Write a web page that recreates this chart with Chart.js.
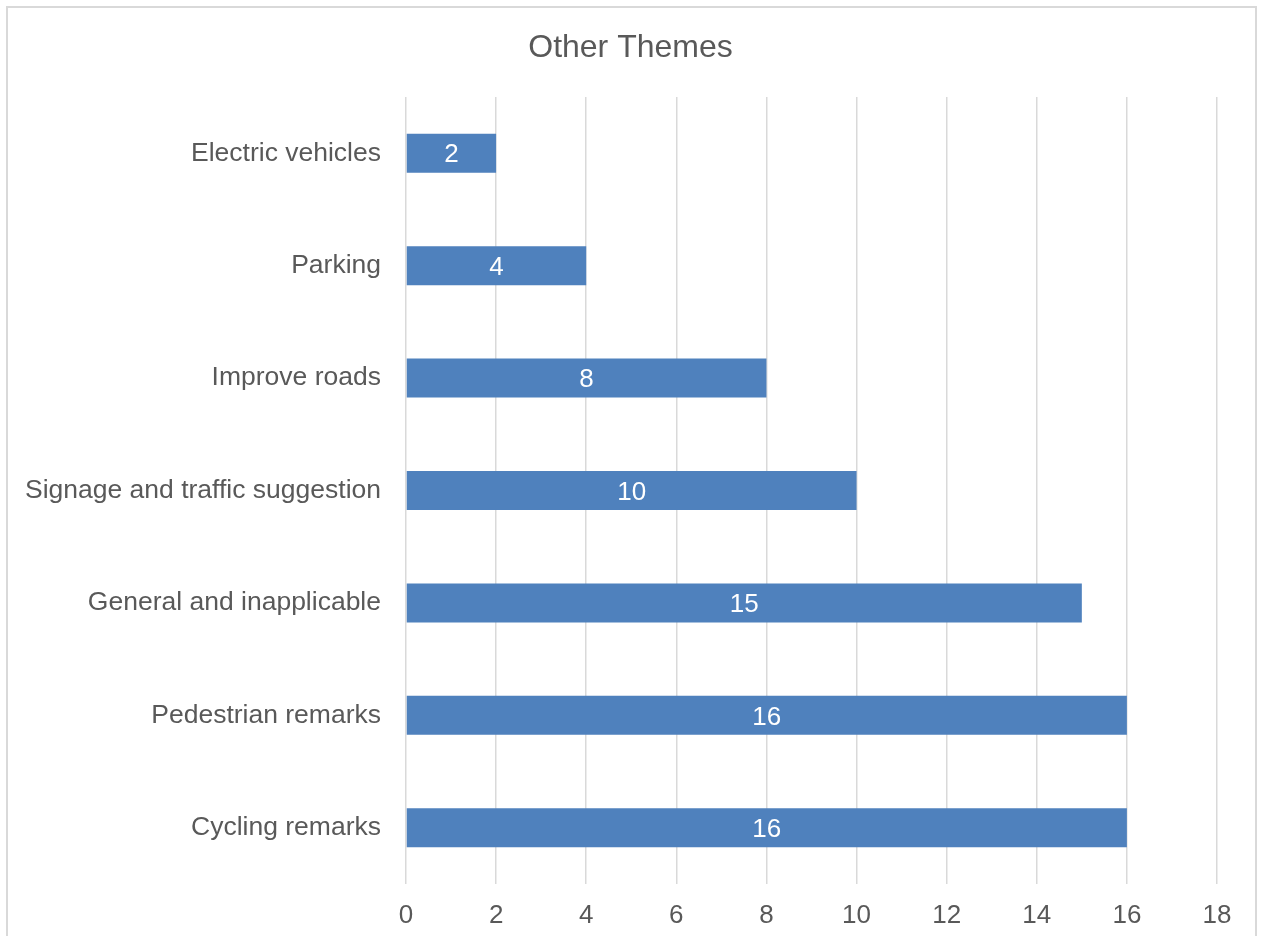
<!DOCTYPE html>
<html>
<head>
<meta charset="utf-8">
<script src="https://cdn.jsdelivr.net/npm/chart.js@4.4.0/dist/chart.umd.min.js"></script>
<style>
  html, body { margin: 0; padding: 0; background: #fff; overflow: hidden; }
  #frame {
    position: absolute; left: 6px; top: 6px; width: 1251px; height: 1000px;
    border: 2px solid #d9d9d9; box-sizing: border-box;
  }
  #wrap { position: absolute; left: 0; top: 0; width: 1261px; height: 936px; }
</style>
</head>
<body>
<div id="frame"></div>
<div id="wrap"><canvas id="themesChart"></canvas></div>
<script>
// Données du graphique
const chartTitle = "Other Themes";
const categories = [
  "Electric vehicles",
  "Parking",
  "Improve roads",
  "Signage and traffic suggestion",
  "General and inapplicable",
  "Pedestrian remarks",
  "Cycling remarks"
];
const counts = [2, 4, 8, 10, 15, 16, 16];
const xTicks = [0, 2, 4, 6, 8, 10, 12, 14, 16, 18];

const textColor = "#595959";
const gridColor = "#d9d9d9";
const fontFamily = "'Liberation Sans', Arial, sans-serif";

// Titre centré sur toute la page (pas seulement sur la zone du graphique)
const pageTitle = {
  id: "pageTitle",
  afterDraw(chart) {
    const ctx = chart.ctx;
    ctx.save();
    ctx.fillStyle = textColor;
    ctx.font = "32px " + fontFamily;
    ctx.textAlign = "center";
    ctx.textBaseline = "middle";
    ctx.fillText(chartTitle, chart.width / 2, 48);
    ctx.restore();
  }
};

// Étiquettes de valeur au centre des barres
const barLabels = {
  id: "barLabels",
  afterDatasetsDraw(chart) {
    const ctx = chart.ctx;
    const meta = chart.getDatasetMeta(0);
    ctx.save();
    ctx.fillStyle = "#ffffff";
    ctx.font = "26px " + fontFamily;
    ctx.textAlign = "center";
    ctx.textBaseline = "middle";
    meta.data.forEach((bar, i) => {
      const v = chart.data.datasets[0].data[i];
      ctx.fillText(String(v), (bar.x + bar.base) / 2, bar.y + 2);
    });
    ctx.restore();
  }
};

new Chart(document.getElementById("themesChart").getContext("2d"), {
  type: "bar",
  data: {
    labels: categories,
    datasets: [{
      data: counts,
      backgroundColor: "#4f81bd",
      borderWidth: 0,
      categoryPercentage: 1,
      barPercentage: 0.347
    }]
  },
  options: {
    indexAxis: "y",
    responsive: true,
    maintainAspectRatio: false,
    animation: false,
    layout: { padding: { top: 97, right: 44, bottom: 0, left: 0 } },
    plugins: {
      legend: { display: false },
      tooltip: { enabled: false },
      title: { display: false }
    },
    scales: {
      x: {
        min: xTicks[0],
        max: xTicks[xTicks.length - 1],
        afterBuildTicks(scale) {
          scale.ticks = xTicks.map(v => ({ value: v }));
        },
        afterFit(scale) { scale.height = 52; },
        grid: { color: gridColor, lineWidth: 1.5, drawTicks: false },
        border: { display: false },
        ticks: {
          color: textColor,
          padding: 16,
          font: { family: fontFamily, size: 26 }
        }
      },
      y: {
        afterFit(scale) { scale.width = 406; },
        grid: { display: false, drawTicks: false },
        border: { display: false },
        ticks: {
          color: textColor,
          padding: 25,
          font: { family: fontFamily, size: 26.5 }
        }
      }
    }
  },
  plugins: [barLabels, pageTitle]
});
</script>
</body>
</html>
